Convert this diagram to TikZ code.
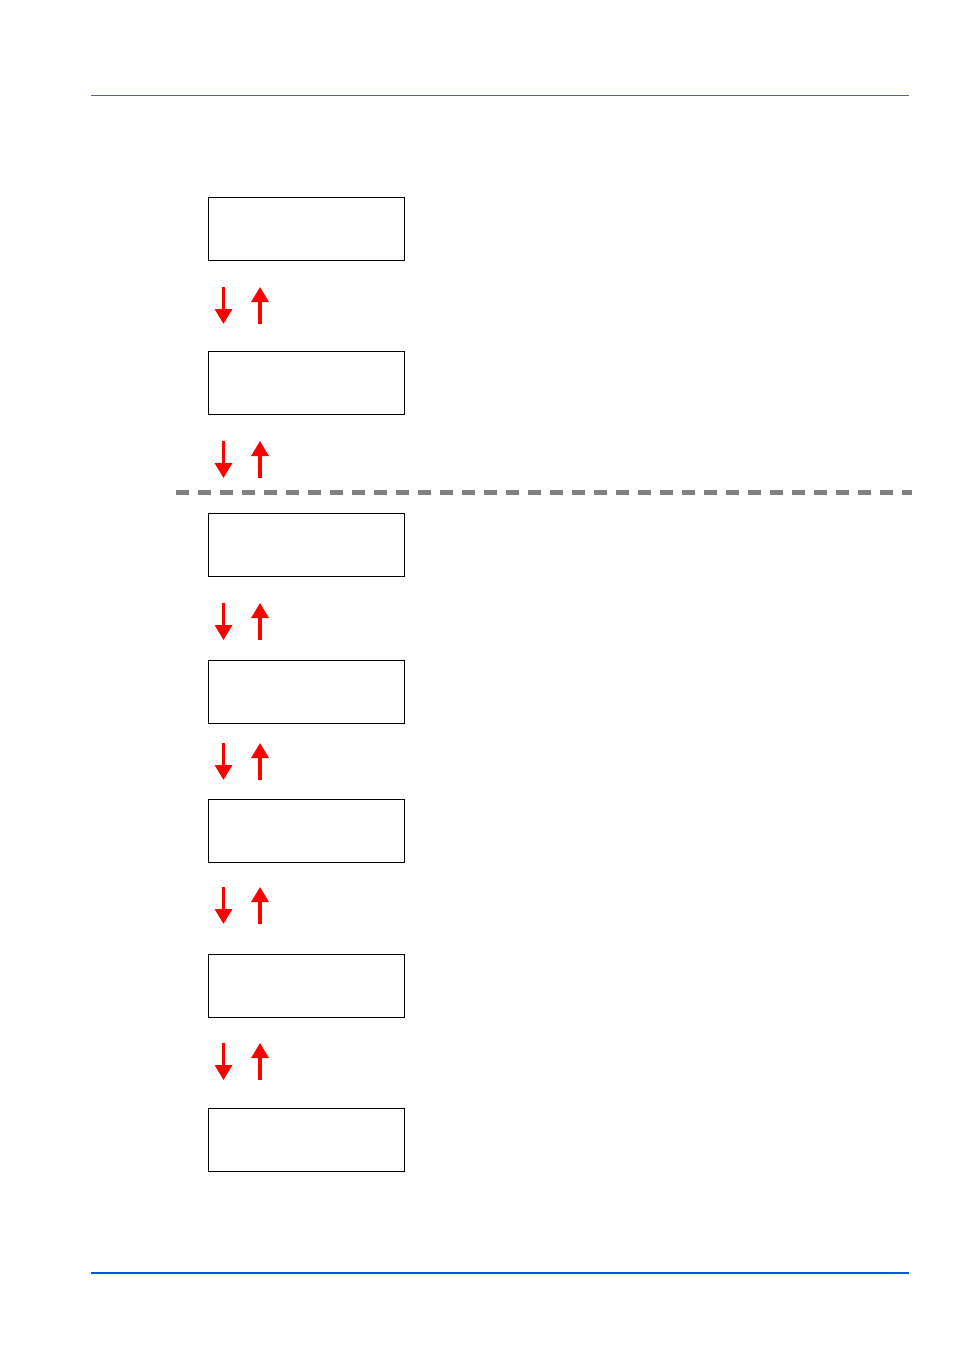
\documentclass[tikz,border=0pt]{standalone}
\usetikzlibrary{arrows.meta}
\begin{document}
\begin{tikzpicture}[x=1pt,y=-1pt,
  screen/.style={draw=black,line width=1.1pt,minimum width=196pt,minimum height=63pt,inner sep=0pt,anchor=north west},
  redarrow/.style={draw=red,line width=3.2pt,-{Triangle[length=15pt,width=17pt]}}]
\useasboundingbox (0,0) rectangle (954,1350);
\fill[white] (0,0) rectangle (954,1350);
\draw[color={rgb,255:red,90;green,100;blue,140},line width=0.8pt] (91,95.5) -- (909,95.5);
\draw[color={rgb,255:red,0;green,85;blue,230},line width=2pt] (91,1272.5) -- (909,1272.5);
\draw[color={rgb,255:red,128;green,128;blue,128},line width=5pt,dash pattern=on 13pt off 9pt] (176,492) -- (912,492);
\foreach \n/\y in {1/197,2/351,3/513,4/660,5/799,6/954,7/1108}{
  \node[screen] (b\n) at (208,\y) {};
}
\foreach \n/\y in {1/287,2/441,3/603,4/743,5/887,6/1043}{
  \coordinate (d\n s) at (223.5,\y);
  \coordinate (d\n e) at (223.5,\y+37);
  \coordinate (u\n s) at (260,\y+37);
  \coordinate (u\n e) at (260,\y);
  \draw[redarrow] (d\n s) -- (d\n e);
  \draw[redarrow] (u\n s) -- (u\n e);
}
\end{tikzpicture}
\end{document}
